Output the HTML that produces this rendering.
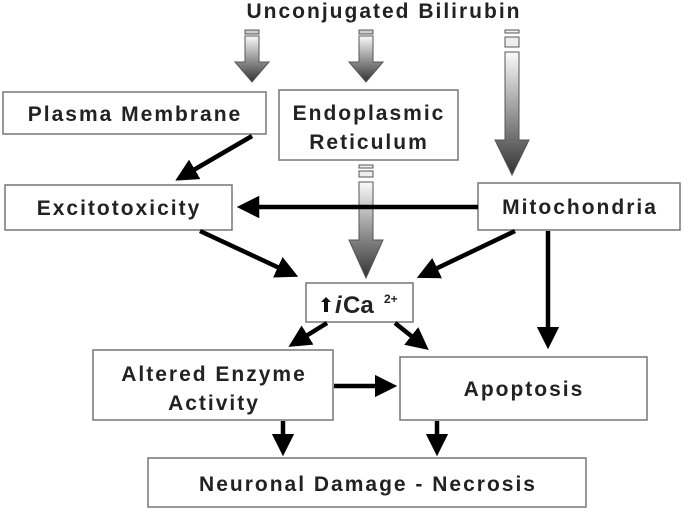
<!DOCTYPE html>
<html><head><meta charset="utf-8"><style>
body{margin:0;background:#fff}
svg{display:block}
text{font-family:"Liberation Sans",Arial,sans-serif;font-weight:bold;fill:#222}
</style></head><body>
<svg width="685" height="511" viewBox="0 0 685 511">
<defs>
<linearGradient id="g" x1="0" y1="0" x2="0" y2="1"><stop offset="0" stop-color="#fafafa"/><stop offset="1" stop-color="#333"/></linearGradient>
<marker id="a" markerWidth="5" markerHeight="5" refX="2.5" refY="2.5" orient="auto" markerUnits="strokeWidth"><path d="M0,0 L5,2.5 L0,5 Z" fill="#000"/></marker>
</defs>
<text x="384" y="18" font-size="21" letter-spacing="2" text-anchor="middle">Unconjugated Bilirubin</text>
<g stroke="#555" stroke-width="1">
<rect x="245" y="30" width="14" height="4" fill="#ccc"/>
<path d="M245,36 h14 v26 h10 l-17,20 l-17,-20 h10 z" fill="url(#g)"/>
<rect x="359" y="30" width="14" height="4" fill="#ccc"/>
<path d="M359,36 h14 v26 h10 l-17,20 l-17,-20 h10 z" fill="url(#g)"/>
<rect x="505" y="30" width="14" height="3" fill="#eee"/>
<rect x="505" y="37" width="14" height="10" fill="#eee"/>
<path d="M505,52 h14 v88 h10 l-17,35 l-17,-35 h10 z" fill="url(#g)"/>
<rect x="359" y="165" width="14" height="3" fill="#eee"/>
<rect x="359" y="171" width="14" height="6" fill="#eee"/>
<path d="M359,182 h14 v58 h10 l-17,38 l-17,-38 h10 z" fill="url(#g)"/>
</g>
<g fill="#fff" stroke="#777" stroke-width="1.5">
<rect x="3" y="92" width="263" height="42"/>
<rect x="279" y="90" width="179" height="70"/>
<rect x="5" y="185" width="227" height="45"/>
<rect x="478" y="183" width="202" height="47"/>
<rect x="306" y="283" width="107" height="39"/>
<rect x="93" y="350" width="240" height="70"/>
<rect x="400" y="357" width="247" height="63"/>
<rect x="148" y="458" width="438" height="49"/>
</g>
<g font-size="21" letter-spacing="2" text-anchor="middle">
<text x="135" y="121">Plasma Membrane</text>
<text x="369" y="120">Endoplasmic</text>
<text x="369" y="149">Reticulum</text>
<text x="119" y="215">Excitotoxicity</text>
<text x="580" y="214">Mitochondria</text>
<text x="214" y="381">Altered Enzyme</text>
<text x="214" y="410">Activity</text>
<text x="524" y="396">Apoptosis</text>
<text x="368" y="491">Neuronal Damage - Necrosis</text>
</g>
<path d="M326,297 l-5,5 h3 v10 h4 v-10 h3 z" fill="#111"/>
<text x="335" y="313" font-size="24" font-style="italic" font-weight="normal">i</text>
<text x="343" y="313" font-size="24" font-weight="normal">Ca</text>
<text x="384" y="303" font-size="12">2+</text>
<g stroke="#000" stroke-width="4.5" marker-end="url(#a)">
<line x1="252" y1="136" x2="185" y2="175"/>
<line x1="478" y1="207" x2="248" y2="207"/>
<line x1="200" y1="231" x2="288" y2="272"/>
<line x1="515" y1="231" x2="427" y2="273"/>
<line x1="548" y1="231" x2="548" y2="338"/>
<line x1="327" y1="323" x2="298" y2="341"/>
<line x1="395" y1="323" x2="420" y2="343"/>
<line x1="334" y1="386" x2="386" y2="386"/>
<line x1="283" y1="421" x2="283" y2="445"/>
<line x1="437" y1="421" x2="437" y2="445"/>
</g>
</svg>
</body></html>
